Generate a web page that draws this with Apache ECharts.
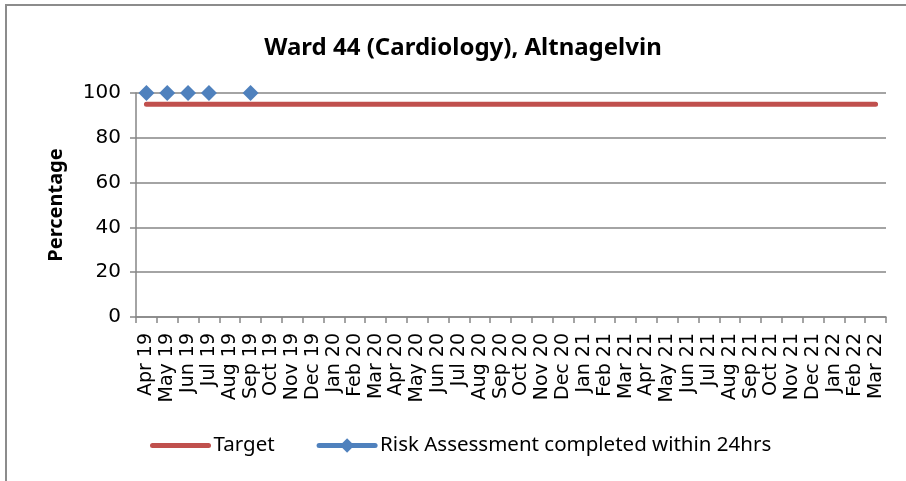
<!DOCTYPE html>
<html>
<head>
<meta charset="utf-8">
<script src="https://cdn.jsdelivr.net/npm/echarts@6/dist/echarts.min.js"></script>
<style>
  html, body { margin: 0; padding: 0; background: #fff; }
  #frame {
    position: absolute; left: 5px; top: 4px; width: 910px; height: 490px;
    border: 2px solid #8c8c8c; box-sizing: border-box;
  }
  #chart { position: absolute; left: 0; top: 0; width: 906px; height: 481px; }
</style>
</head>
<body>
<div id="frame"></div>
<div id="chart"></div>
<script>
// 月份
const months = [
  'Apr 19', 'May 19', 'Jun 19', 'Jul 19', 'Aug 19', 'Sep 19', 'Oct 19', 'Nov 19', 'Dec 19',
  'Jan 20', 'Feb 20', 'Mar 20', 'Apr 20', 'May 20', 'Jun 20', 'Jul 20', 'Aug 20', 'Sep 20',
  'Oct 20', 'Nov 20', 'Dec 20', 'Jan 21', 'Feb 21', 'Mar 21', 'Apr 21', 'May 21', 'Jun 21',
  'Jul 21', 'Aug 21', 'Sep 21', 'Oct 21', 'Nov 21', 'Dec 21', 'Jan 22', 'Feb 22', 'Mar 22'
]

const targetValues = [
  95, 95, 95, 95, 95, 95, 95, 95, 95, 95, 95, 95,
  95, 95, 95, 95, 95, 95, 95, 95, 95, 95, 95, 95,
  95, 95, 95, 95, 95, 95, 95, 95, 95, 95, 95, 95
]

const riskValues = [
  100, 100, 100, 100, null, 100, null, null, null, null, null, null,
  null, null, null, null, null, null, null, null, null, null, null, null,
  null, null, null, null, null, null, null, null, null, null, null, null
]

const yTicks = { min: 0, max: 100, interval: 20 }

const gridColor = '#868686'
const chart = echarts.init(document.getElementById('chart'))

chart.setOption({
  animation: false,
  title: {
    text: 'Ward 44 (Cardiology), Altnagelvin',
    left: 458,
    top: 31,
    textAlign: 'center',
    textStyle: { fontFamily: 'Noto Sans', fontWeight: 'bold', fontSize: 24, color: '#000' }
  },
  grid: { left: 136, right: 20, top: 93, bottom: 164 },
  legend: {
    left: 145,
    top: 430,
    itemGap: 42,
    itemWidth: 56,
    itemHeight: 18,
    textStyle: { fontFamily: 'Noto Sans', fontSize: 20.5, color: '#000' },
    data: [
      {
        name: 'Target',
        itemStyle: { color: 'rgba(0,0,0,0)', borderWidth: 0 },
        lineStyle: { color: '#C0504D', width: 5, opacity: 1, cap: 'round' }
      },
      {
        name: 'Risk Assessment completed within 24hrs',
        lineStyle: { color: '#4F81BD', width: 5, opacity: 1, cap: 'round' }
      }
    ]
  },
  xAxis: {
    type: 'category',
    data: months,
    boundaryGap: true,
    axisLine: { lineStyle: { color: gridColor, width: 1.5 } },
    axisTick: { show: true, length: 6, lineStyle: { color: gridColor, width: 1.5 } },
    axisLabel: {
      rotate: 90,
      interval: 0,
      margin: 16,
      fontFamily: 'DejaVu Sans',
      fontSize: 19,
      color: '#000'
    }
  },
  yAxis: {
    type: 'value',
    min: yTicks.min,
    max: yTicks.max,
    interval: yTicks.interval,
    name: 'Percentage',
    nameLocation: 'middle',
    nameGap: 70,
    nameTextStyle: { fontFamily: 'Noto Sans', fontWeight: 'bold', fontSize: 20, color: '#000' },
    axisLine: { show: true, lineStyle: { color: gridColor, width: 1.5 } },
    axisTick: { show: true, length: 6, lineStyle: { color: gridColor, width: 1.5 } },
    axisLabel: { fontFamily: 'DejaVu Sans', fontSize: 20, color: '#000', margin: 15 },
    splitLine: { lineStyle: { color: gridColor, width: 1.5 } }
  },
  series: [
    {
      name: 'Target',
      type: 'line',
      data: targetValues,
      symbol: 'none',
      lineStyle: { color: '#C0504D', width: 5, cap: 'round' },
      itemStyle: { color: '#C0504D' }
    },
    {
      name: 'Risk Assessment completed within 24hrs',
      type: 'line',
      data: riskValues,
      symbol: 'diamond',
      symbolSize: 16,
      showSymbol: true,
      connectNulls: false,
      lineStyle: { color: '#4F81BD', width: 0, opacity: 0 },
      itemStyle: { color: '#4F81BD' }
    }
  ]
})
</script>
</body>
</html>
